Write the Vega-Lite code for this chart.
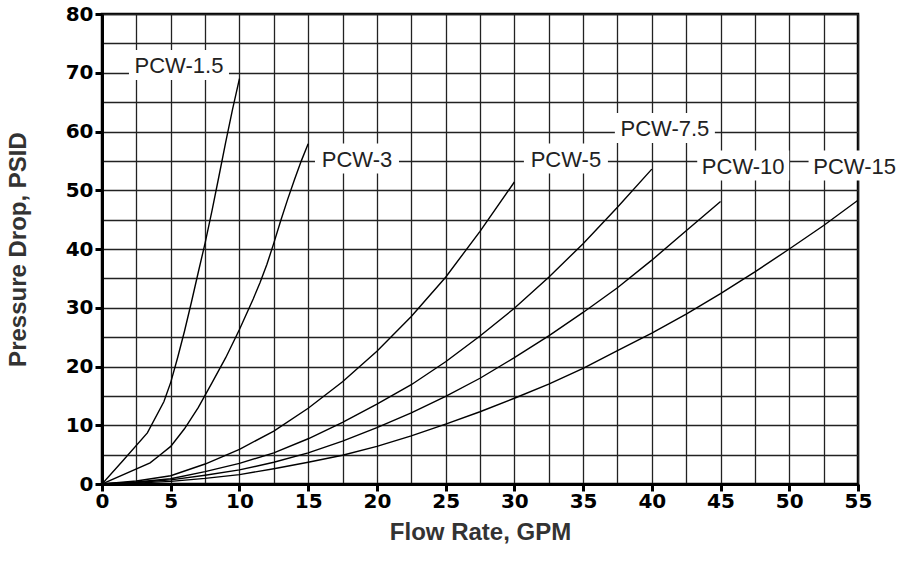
{
  "$schema": "https://vega.github.io/schema/vega-lite/v6.json",
  "width": 756,
  "height": 470,
  "autosize": "none",
  "padding": {"left": 102, "top": 14, "right": 42, "bottom": 85},
  "background": "white",
  "config": {
    "view": {"stroke": "black", "strokeWidth": 2.5},
    "font": "Liberation Sans"
  },
  "datasets": {
    "curves": [
      {"series": "PCW-1.5", "gpm": 0, "psid": 0},
      {"series": "PCW-1.5", "gpm": 1.5, "psid": 3.9},
      {"series": "PCW-1.5", "gpm": 3.3, "psid": 8.7},
      {"series": "PCW-1.5", "gpm": 4.5, "psid": 14},
      {"series": "PCW-1.5", "gpm": 5, "psid": 17.3},
      {"series": "PCW-1.5", "gpm": 5.5, "psid": 21.5},
      {"series": "PCW-1.5", "gpm": 6, "psid": 26},
      {"series": "PCW-1.5", "gpm": 6.5, "psid": 30.9},
      {"series": "PCW-1.5", "gpm": 7, "psid": 36},
      {"series": "PCW-1.5", "gpm": 7.5, "psid": 41},
      {"series": "PCW-1.5", "gpm": 8, "psid": 46.5},
      {"series": "PCW-1.5", "gpm": 8.5, "psid": 52.3},
      {"series": "PCW-1.5", "gpm": 9, "psid": 58.2},
      {"series": "PCW-1.5", "gpm": 9.5, "psid": 63.8},
      {"series": "PCW-1.5", "gpm": 10, "psid": 69},
      {"series": "PCW-3", "gpm": 0, "psid": 0},
      {"series": "PCW-3", "gpm": 3.5, "psid": 3.6},
      {"series": "PCW-3", "gpm": 4.2, "psid": 4.9},
      {"series": "PCW-3", "gpm": 5, "psid": 6.4},
      {"series": "PCW-3", "gpm": 6, "psid": 9.4},
      {"series": "PCW-3", "gpm": 7, "psid": 13},
      {"series": "PCW-3", "gpm": 8, "psid": 17.2},
      {"series": "PCW-3", "gpm": 9, "psid": 21.5},
      {"series": "PCW-3", "gpm": 10, "psid": 26.3},
      {"series": "PCW-3", "gpm": 11, "psid": 31.5},
      {"series": "PCW-3", "gpm": 11.5, "psid": 34.3},
      {"series": "PCW-3", "gpm": 12, "psid": 37.4},
      {"series": "PCW-3", "gpm": 12.5, "psid": 41},
      {"series": "PCW-3", "gpm": 13, "psid": 44.8},
      {"series": "PCW-3", "gpm": 13.5, "psid": 48.4},
      {"series": "PCW-3", "gpm": 14, "psid": 51.8},
      {"series": "PCW-3", "gpm": 14.5, "psid": 55},
      {"series": "PCW-3", "gpm": 15, "psid": 57.9},
      {"series": "PCW-5", "gpm": 0, "psid": 0},
      {"series": "PCW-5", "gpm": 2.5, "psid": 0.5},
      {"series": "PCW-5", "gpm": 5, "psid": 1.4},
      {"series": "PCW-5", "gpm": 7.5, "psid": 3.4},
      {"series": "PCW-5", "gpm": 10, "psid": 5.9},
      {"series": "PCW-5", "gpm": 12.5, "psid": 9},
      {"series": "PCW-5", "gpm": 15, "psid": 12.9},
      {"series": "PCW-5", "gpm": 17.5, "psid": 17.4},
      {"series": "PCW-5", "gpm": 20, "psid": 22.6},
      {"series": "PCW-5", "gpm": 22.5, "psid": 28.5},
      {"series": "PCW-5", "gpm": 25, "psid": 35.2},
      {"series": "PCW-5", "gpm": 27.5, "psid": 43},
      {"series": "PCW-5", "gpm": 30, "psid": 51.4},
      {"series": "PCW-7.5", "gpm": 0, "psid": 0},
      {"series": "PCW-7.5", "gpm": 2.5, "psid": 0.35},
      {"series": "PCW-7.5", "gpm": 5, "psid": 0.9},
      {"series": "PCW-7.5", "gpm": 7.5, "psid": 2.1},
      {"series": "PCW-7.5", "gpm": 10, "psid": 3.5},
      {"series": "PCW-7.5", "gpm": 12.5, "psid": 5.3},
      {"series": "PCW-7.5", "gpm": 15, "psid": 7.7},
      {"series": "PCW-7.5", "gpm": 17.5, "psid": 10.5},
      {"series": "PCW-7.5", "gpm": 20, "psid": 13.6},
      {"series": "PCW-7.5", "gpm": 22.5, "psid": 16.9},
      {"series": "PCW-7.5", "gpm": 25, "psid": 20.8},
      {"series": "PCW-7.5", "gpm": 27.5, "psid": 25.2},
      {"series": "PCW-7.5", "gpm": 30, "psid": 29.9},
      {"series": "PCW-7.5", "gpm": 32.5, "psid": 35.2},
      {"series": "PCW-7.5", "gpm": 35, "psid": 40.9},
      {"series": "PCW-7.5", "gpm": 37.5, "psid": 47.1},
      {"series": "PCW-7.5", "gpm": 40, "psid": 53.6},
      {"series": "PCW-10", "gpm": 0, "psid": 0},
      {"series": "PCW-10", "gpm": 2.5, "psid": 0.25},
      {"series": "PCW-10", "gpm": 5, "psid": 0.7},
      {"series": "PCW-10", "gpm": 7.5, "psid": 1.5},
      {"series": "PCW-10", "gpm": 10, "psid": 2.4},
      {"series": "PCW-10", "gpm": 12.5, "psid": 3.7},
      {"series": "PCW-10", "gpm": 15, "psid": 5.3},
      {"series": "PCW-10", "gpm": 17.5, "psid": 7.3},
      {"series": "PCW-10", "gpm": 20, "psid": 9.6},
      {"series": "PCW-10", "gpm": 22.5, "psid": 12.1},
      {"series": "PCW-10", "gpm": 25, "psid": 14.9},
      {"series": "PCW-10", "gpm": 27.5, "psid": 18},
      {"series": "PCW-10", "gpm": 30, "psid": 21.5},
      {"series": "PCW-10", "gpm": 32.5, "psid": 25.2},
      {"series": "PCW-10", "gpm": 35, "psid": 29.2},
      {"series": "PCW-10", "gpm": 37.5, "psid": 33.4},
      {"series": "PCW-10", "gpm": 40, "psid": 38.1},
      {"series": "PCW-10", "gpm": 42.5, "psid": 43.1},
      {"series": "PCW-10", "gpm": 45, "psid": 48.1},
      {"series": "PCW-15", "gpm": 0, "psid": 0},
      {"series": "PCW-15", "gpm": 2.5, "psid": 0.15},
      {"series": "PCW-15", "gpm": 5, "psid": 0.45},
      {"series": "PCW-15", "gpm": 7.5, "psid": 0.95},
      {"series": "PCW-15", "gpm": 10, "psid": 1.6},
      {"series": "PCW-15", "gpm": 12.5, "psid": 2.6},
      {"series": "PCW-15", "gpm": 15, "psid": 3.7},
      {"series": "PCW-15", "gpm": 17.5, "psid": 4.9},
      {"series": "PCW-15", "gpm": 20, "psid": 6.4},
      {"series": "PCW-15", "gpm": 22.5, "psid": 8.2},
      {"series": "PCW-15", "gpm": 25, "psid": 10.2},
      {"series": "PCW-15", "gpm": 27.5, "psid": 12.3},
      {"series": "PCW-15", "gpm": 30, "psid": 14.6},
      {"series": "PCW-15", "gpm": 32.5, "psid": 17},
      {"series": "PCW-15", "gpm": 35, "psid": 19.7},
      {"series": "PCW-15", "gpm": 37.5, "psid": 22.7},
      {"series": "PCW-15", "gpm": 40, "psid": 25.7},
      {"series": "PCW-15", "gpm": 42.5, "psid": 28.9},
      {"series": "PCW-15", "gpm": 45, "psid": 32.4},
      {"series": "PCW-15", "gpm": 47.5, "psid": 36.1},
      {"series": "PCW-15", "gpm": 50, "psid": 40},
      {"series": "PCW-15", "gpm": 52.5, "psid": 44},
      {"series": "PCW-15", "gpm": 55, "psid": 48.3}
    ],
    "labels": [
      {"label": "PCW-1.5", "gpm": 5.6, "psid": 71.3, "size": "l"},
      {"label": "PCW-3", "gpm": 18.55, "psid": 55.4, "size": "s"},
      {"label": "PCW-5", "gpm": 33.75, "psid": 55.4, "size": "s"},
      {"label": "PCW-7.5", "gpm": 40.95, "psid": 60.6, "size": "l"},
      {"label": "PCW-10", "gpm": 46.65, "psid": 54.2, "size": "m"},
      {"label": "PCW-15", "gpm": 54.75, "psid": 54.2, "size": "m"}
    ]
  },
  "encoding": {
    "x": {
      "field": "gpm",
      "type": "quantitative",
      "scale": {"domain": [0, 55], "nice": false, "zero": true},
      "axis": {
        "title": "Flow Rate, GPM",
        "values": [0, 2.5, 5, 7.5, 10, 12.5, 15, 17.5, 20, 22.5, 25, 27.5, 30, 32.5, 35, 37.5, 40, 42.5, 45, 47.5, 50, 52.5, 55],
        "labelExpr": "datum.value % 5 === 0 ? datum.label : ''",
        "labelFont": "DejaVu Sans",
        "labelFontWeight": "bold",
        "labelFontSize": 20,
        "labelColor": "black",
        "labelPadding": 0,
        "labelFlush": false,
        "labelOverlap": false,
        "domainColor": "black",
        "domainWidth": 3,
        "tickColor": "black",
        "tickSize": 7,
        "tickWidth": {"condition": {"test": "datum.value % 5 === 0", "value": 3}, "value": 0},
        "grid": true,
        "gridColor": "#222222",
        "gridWidth": 1.3,
        "gridOpacity": 1,
        "titleFont": "Liberation Sans",
        "titleFontSize": 24,
        "titleFontWeight": "bold",
        "titleColor": "#333333",
        "titlePadding": 9
      }
    },
    "y": {
      "field": "psid",
      "type": "quantitative",
      "scale": {"domain": [0, 80], "nice": false},
      "axis": {
        "title": "Pressure Drop, PSID",
        "values": [0, 5, 10, 15, 20, 25, 30, 35, 40, 45, 50, 55, 60, 65, 70, 75, 80],
        "labelExpr": "datum.value % 10 === 0 ? datum.label : ''",
        "labelFont": "DejaVu Sans",
        "labelFontWeight": "bold",
        "labelFontSize": 20,
        "labelColor": "black",
        "labelPadding": 2,
        "labelFlush": false,
        "labelOverlap": false,
        "domainColor": "black",
        "domainWidth": 3,
        "tickColor": "black",
        "tickSize": 7,
        "tickWidth": {"condition": {"test": "datum.value % 10 === 0", "value": 3}, "value": 0},
        "grid": true,
        "gridColor": "#222222",
        "gridWidth": 1.3,
        "gridOpacity": 1,
        "titleFont": "Liberation Sans",
        "titleFontSize": 24,
        "titleFontWeight": "bold",
        "titleColor": "#333333",
        "titlePadding": 35
      }
    }
  },
  "layer": [
    {
      "data": {"name": "curves"},
      "mark": {"type": "line", "color": "black", "strokeWidth": 1.4, "clip": true},
      "encoding": {"detail": {"field": "series"}}
    },
    {
      "data": {"name": "labels"},
      "transform": [{"filter": "datum.size === 'l'"}],
      "mark": {"type": "rect", "color": "white", "opacity": 1, "width": 100, "height": 30},
      "encoding": {}
    },
    {
      "data": {"name": "labels"},
      "transform": [{"filter": "datum.size === 'm'"}],
      "mark": {"type": "rect", "color": "white", "opacity": 1, "width": 92, "height": 30},
      "encoding": {}
    },
    {
      "data": {"name": "labels"},
      "transform": [{"filter": "datum.size === 's'"}],
      "mark": {"type": "rect", "color": "white", "opacity": 1, "width": 84, "height": 30},
      "encoding": {}
    },
    {
      "data": {"name": "labels"},
      "mark": {"type": "text", "font": "Liberation Sans", "fontSize": 22, "color": "#222222", "baseline": "middle", "align": "center", "dy": 1},
      "encoding": {"text": {"field": "label"}}
    }
  ]
}
